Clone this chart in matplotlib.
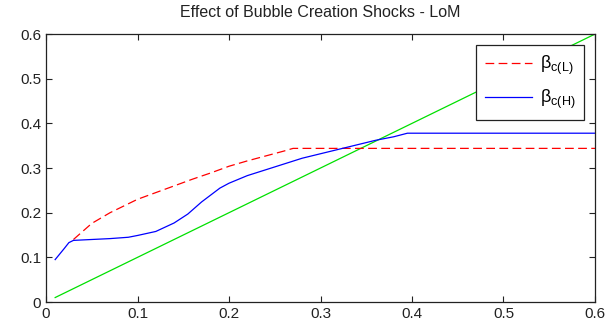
import matplotlib
matplotlib.use("Agg")
import matplotlib.pyplot as plt

# bubble creation shock level on the x axis
x_h = [0.01, 0.02, 0.025, 0.03, 0.05, 0.07, 0.09, 0.10, 0.12, 0.14, 0.155, 0.17, 0.19,
       0.20, 0.22, 0.24, 0.26, 0.28, 0.30, 0.32, 0.34, 0.36, 0.38, 0.395, 0.45, 0.5, 0.6]
beta_h = [0.095, 0.12, 0.133, 0.138, 0.140, 0.142, 0.145, 0.149, 0.158, 0.177, 0.197, 0.224, 0.255,
          0.266, 0.283, 0.296, 0.309, 0.322, 0.332, 0.342, 0.352, 0.362, 0.370, 0.378, 0.378, 0.378, 0.378]

x_l = [0.03, 0.05, 0.07, 0.09, 0.10, 0.12, 0.14, 0.16, 0.18, 0.20, 0.22, 0.24, 0.26, 0.27, 0.4, 0.6]
beta_l = [0.140, 0.176, 0.200, 0.220, 0.230, 0.245, 0.260, 0.275, 0.289, 0.304, 0.316, 0.327, 0.338, 0.344, 0.344, 0.344]

x_45 = [0.01, 0.1, 0.2, 0.3, 0.4, 0.5, 0.6]
y_45 = [0.01, 0.1, 0.2, 0.3, 0.4, 0.5, 0.6]

plt.rcParams['font.family'] = ['Liberation Sans', 'DejaVu Sans']
plt.rcParams['mathtext.fontset'] = 'custom'
plt.rcParams['mathtext.rm'] = 'Liberation Sans'
plt.rcParams['mathtext.it'] = 'Liberation Sans'

fig = plt.figure(figsize=(6.11, 3.3), dpi=100)
ax = fig.add_axes([0.0753, 0.0848, 0.8985, 0.812])

ax.plot(x_45, y_45, color="#00e000", lw=0.9)
l1, = ax.plot(x_l, beta_l, color="red", ls=(0, (7, 3.5)), lw=0.9, label=r"β$_{\mathrm{c(L)}}$")
l2, = ax.plot(x_h, beta_h, color="blue", lw=0.9, label=r"β$_{\mathrm{c(H)}}$")

ax.set_xlim(0, 0.6)
ax.set_ylim(0, 0.6)
ax.set_xticks([0, 0.1, 0.2, 0.3, 0.4, 0.5, 0.6])
ax.set_yticks([0, 0.1, 0.2, 0.3, 0.4, 0.5, 0.6])
ax.set_xticklabels(["0", "0.1", "0.2", "0.3", "0.4", "0.5", "0.6"])
ax.set_yticklabels(["0", "0.1", "0.2", "0.3", "0.4", "0.5", "0.6"])
ax.tick_params(direction="in", top=True, right=True, labelsize=11, colors="#222222", length=4)
for s in ax.spines.values():
    s.set_linewidth(0.9)
    s.set_color("#222222")

ax.set_title("Effect of Bubble Creation Shocks - LoM", fontsize=11.5, color="#222222", pad=12)

leg = ax.legend(handles=[l1, l2], loc="upper right", fontsize=13, fancybox=False,
                framealpha=1, edgecolor="#222222", handlelength=2.6, handletextpad=0.4,
                borderaxespad=0.6, labelspacing=0.6, borderpad=0.5)
leg.get_frame().set_linewidth(0.9)

fig.savefig("out.png", dpi=100)
